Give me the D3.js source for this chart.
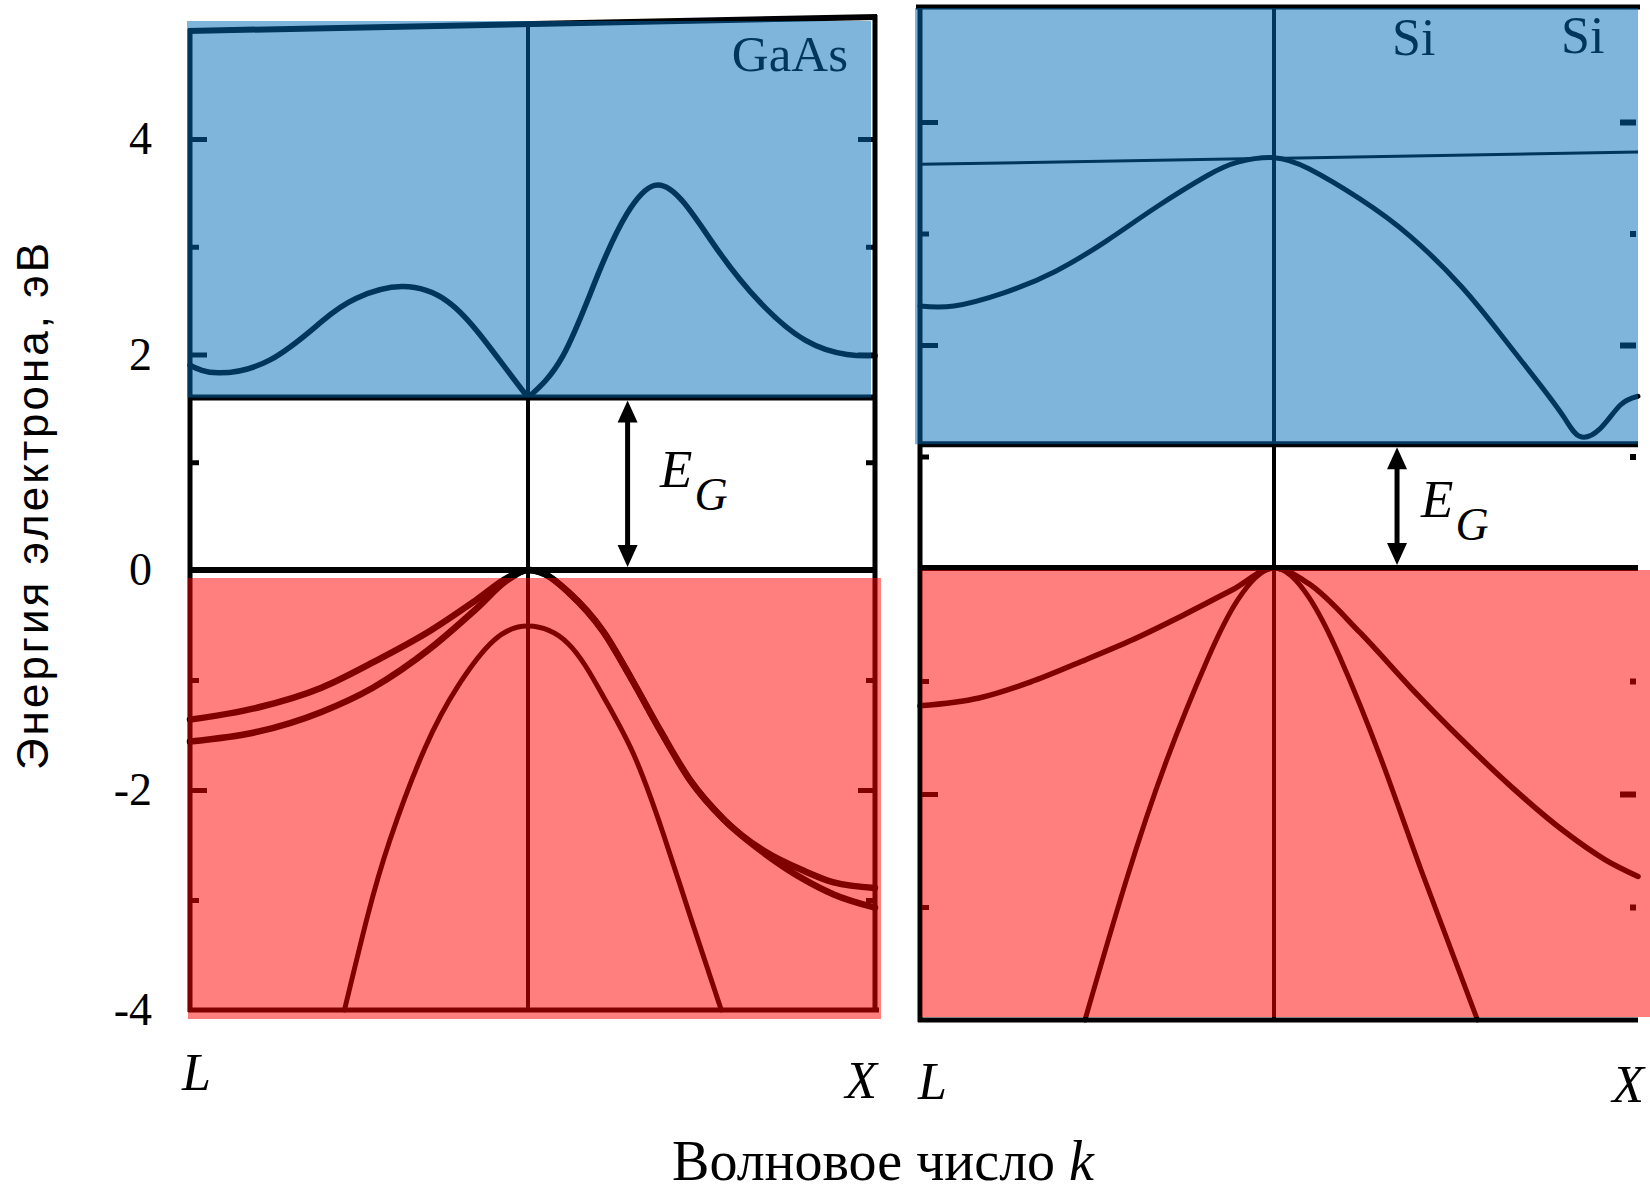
<!DOCTYPE html>
<html>
<head>
<meta charset="utf-8">
<title>Зонная структура GaAs и Si</title>
<script src="https://cdn.jsdelivr.net/npm/d3@7"></script>
<style>
  html, body { margin: 0; padding: 0; background: #fff; }
  svg { display: block; }
</style>
</head>
<body>
<svg id="chart" width="1650" height="1186"></svg>
<script>
// Band energies E(k), eV. k runs from L (-1) through Γ (0) to X (+1).

// GaAs conduction band (cusp at Γ, so two branches)
const gaasCondLeft = [[-1, 1.90], [-0.917, 1.83], [-0.763, 1.95], [-0.609, 2.31], [-0.509, 2.52],
  [-0.373, 2.63], [-0.237, 2.49], [-0.136, 2.16], [-0.068, 1.88], [0, 1.60]];
const gaasCondRight = [[0, 1.60], [0.101, 1.99], [0.200, 2.73], [0.284, 3.30], [0.365, 3.57],
  [0.449, 3.41], [0.551, 2.95], [0.667, 2.49], [0.800, 2.13], [0.919, 2.00], [1, 1.99]];

// GaAs valence bands
const gaasHeavy = [[-1, -1.36], [-0.799, -1.25], [-0.611, -1.07], [-0.459, -0.84], [-0.288, -0.55],
  [-0.152, -0.27], [-0.06, -0.07], [0, 0], [0.05, -0.04], [0.116, -0.20], [0.217, -0.56], [0.3, -1.00],
  [0.383, -1.47], [0.467, -1.91], [0.565, -2.27], [0.683, -2.56], [0.799, -2.74], [0.881, -2.84], [1, -2.89]];
const gaasLight = [[-1, -1.56], [-0.799, -1.47], [-0.611, -1.29], [-0.459, -1.07], [-0.288, -0.71],
  [-0.152, -0.35], [-0.06, -0.09], [0, 0], [0.05, -0.04], [0.116, -0.20], [0.217, -0.56], [0.3, -1.00],
  [0.383, -1.47], [0.467, -1.91], [0.565, -2.27], [0.683, -2.58], [0.799, -2.82], [0.881, -2.95], [1, -3.07]];
const gaasSplitOff = [[-0.543, -4], [-0.475, -3.15], [-0.408, -2.45], [-0.305, -1.62], [-0.204, -1.04],
  [-0.101, -0.64], [0, -0.51], [0.116, -0.67], [0.217, -1.15], [0.305, -1.68], [0.39, -2.4],
  [0.475, -3.22], [0.557, -4]];

// Si conduction band and the level through its Γ maximum
const siCond = [[-1, 2.35], [-0.904, 2.35], [-0.761, 2.47], [-0.618, 2.66], [-0.475, 2.93], [-0.331, 3.24],
  [-0.188, 3.52], [-0.102, 3.64], [0, 3.68], [0.096, 3.58], [0.236, 3.31], [0.376, 2.97], [0.516, 2.52],
  [0.629, 2.07], [0.727, 1.66], [0.797, 1.35], [0.840, 1.18], [0.896, 1.25], [0.951, 1.46], [1, 1.54]];
const siLevel = [[-1, 3.62], [1, 3.73]];

// Si valence bands
const siHeavy = [[-1, -1.22], [-0.833, -1.15], [-0.689, -1.01], [-0.546, -0.83], [-0.403, -0.64],
  [-0.258, -0.42], [-0.116, -0.19], [0, 0], [0.096, -0.14], [0.236, -0.57], [0.376, -1.06],
  [0.516, -1.52], [0.657, -1.95], [0.797, -2.33], [0.909, -2.58], [1, -2.73]];
const siLight = [[-0.534, -4], [-0.417, -2.76], [-0.303, -1.70], [-0.188, -0.81], [-0.102, -0.28], [0, 0],
  [0.096, -0.26], [0.181, -0.79], [0.293, -1.68], [0.405, -2.68], [0.559, -4]];

// Band gaps, eV
const gaasGap = 1.60;
const siGap = 1.11;

// Energy axis ticks
const minorTicks = [-3, -1, 1, 3];
const majorTicks = [-2, 2, 4];
const labelTicks = [4, 2, 0, -2, -4];
const tickLabels = ["4", "2", "0", "-2", "-4"];

// Text
const materialGaAs = "GaAs";
const materialSi = "Si";
const pointL = "L";
const pointX = "X";
const yTitle = "Энергия электрона, эВ";
const xTitle = "Волновое число ";
const xTitleVar = "k";

// ---------------------------------------------------------------------------
const svg = d3.select("#chart");
svg.append("rect").attr("width", 1650).attr("height", 1186).attr("fill", "#fff");

const SERIF = "'Liberation Serif', 'Times New Roman', serif";
const SANS = "'Liberation Sans', Arial, sans-serif";
const INK = "#000";
const BLUE_WASH = "rgba(0,105,183,0.5)";
const RED_WASH = "rgba(255,0,0,0.5)";

const lineGen = (x, y, curve) => d3.line()
  .x(d => x(d[0])).y(d => y(d[1]))
  .curve(curve);

function drawCurve(g, data, x, y, w, curve = d3.curveNatural) {
  g.append("path").datum(data)
    .attr("d", lineGen(x, y, curve))
    .attr("fill", "none").attr("stroke", INK)
    .attr("stroke-width", w).attr("stroke-linecap", "round").attr("stroke-linejoin", "round");
}

function hLine(g, x1, x2, yy, w) {
  g.append("line").attr("x1", x1).attr("x2", x2).attr("y1", yy).attr("y2", yy)
    .attr("stroke", INK).attr("stroke-width", w);
}
function vLine(g, xx, y1, y2, w) {
  g.append("line").attr("x1", xx).attr("x2", xx).attr("y1", y1).attr("y2", y2)
    .attr("stroke", INK).attr("stroke-width", w);
}

function ticks(g, y, xPos, orient, majorLen, minorLen, w) {
  const mk = orient === "right" ? d3.axisRight : d3.axisLeft;
  const ga = g.append("g").attr("transform", `translate(${xPos},0)`);
  ga.call(mk(y).tickValues(majorTicks).tickSize(majorLen).tickFormat(""));
  const gb = g.append("g").attr("transform", `translate(${xPos},0)`);
  gb.call(mk(y).tickValues(minorTicks).tickSize(minorLen).tickFormat(""));
  [ga, gb].forEach(a => {
    a.select(".domain").remove();
    a.selectAll(".tick line").attr("stroke", INK).attr("stroke-width", w);
  });
}

function gapArrow(g, xx, y, gap) {
  const top = y(gap) + 3, bot = y(0) - 3, hw = 10, hl = 22;
  vLine(g, xx, top + hl - 2, bot - hl + 2, 5);
  g.append("path").attr("d", `M${xx},${top} L${xx - hw},${top + hl} L${xx + hw},${top + hl} Z`).attr("fill", INK);
  g.append("path").attr("d", `M${xx},${bot} L${xx - hw},${bot - hl} L${xx + hw},${bot - hl} Z`).attr("fill", INK);
}

function gapLabel(g, xx, yy) {
  const t = g.append("text").attr("x", xx).attr("y", yy)
    .attr("font-family", SERIF).attr("font-style", "italic").attr("fill", INK);
  t.append("tspan").attr("font-size", 53).text("E");
  t.append("tspan").attr("font-size", 46).attr("dx", 2).attr("dy", 23).text("G");
}

// ---------------------------- GaAs panel ----------------------------------
const xG = d3.scaleLinear().domain([-1, 0, 1]).range([190, 528, 875]);
const yG = d3.scaleLinear().domain([-4, 0, 4]).range([1010, 570, 139]);
const gG = svg.append("g");

// frame
gG.append("line").attr("x1", 188).attr("y1", 31).attr("x2", 877).attr("y2", 17)
  .attr("stroke", INK).attr("stroke-width", 6);
vLine(gG, xG(-1), 29, yG(-4) + 2, 5);
vLine(gG, xG(1), 15, yG(-4) + 2, 5);
hLine(gG, xG(-1) - 2, xG(1) + 4, yG(-4), 5);
vLine(gG, xG(0), 24, yG(-4), 4);
hLine(gG, xG(-1), xG(1), yG(gaasGap), 6);
hLine(gG, xG(-1), xG(1), yG(0), 6);

ticks(gG, yG, xG(-1), "right", 17, 9, 5);
ticks(gG, yG, xG(1), "left", 17, 9, 5);

// bands
drawCurve(gG, gaasCondLeft, xG, yG, 5.5);
drawCurve(gG, gaasCondRight, xG, yG, 5.5);
drawCurve(gG, gaasHeavy, xG, yG, 6.5, d3.curveMonotoneX);
drawCurve(gG, gaasLight, xG, yG, 6.5, d3.curveMonotoneX);
drawCurve(gG, gaasSplitOff, xG, yG, 5);

gG.append("text").attr("x", 848).attr("y", 71).attr("text-anchor", "end")
  .attr("font-family", SERIF).attr("font-size", 51).attr("fill", INK).text(materialGaAs);

// coloured washes over conduction and valence regions
gG.append("rect").attr("x", 187).attr("y", 21).attr("width", 684).attr("height", yG(gaasGap) - 21)
  .attr("fill", BLUE_WASH);
gG.append("rect").attr("x", 188).attr("y", yG(0) + 8).attr("width", 693).attr("height", 1019 - yG(0) - 8)
  .attr("fill", RED_WASH);

gapArrow(gG, xG(0.287), yG, gaasGap);
gapLabel(gG, 660, 487);

// energy labels
const yAxisLabels = svg.append("g").attr("transform", `translate(${xG(-1)},0)`)
  .call(d3.axisLeft(yG).tickValues(labelTicks).tickSize(0).tickPadding(38)
    .tickFormat((d, i) => tickLabels[i]));
yAxisLabels.select(".domain").remove();
yAxisLabels.selectAll("text").attr("font-family", SERIF).attr("font-size", 46).attr("fill", INK);

// ----------------------------- Si panel -----------------------------------
const xS = d3.scaleLinear().domain([-1, 0, 1]).range([920, 1274, 1638]);
const yS = d3.scaleLinear().domain([-4, 0, 4]).range([1020, 568, 122]);
const gS = svg.append("g");

hLine(gS, 916, 1640, 7, 5);
vLine(gS, xS(-1), 5, yS(-4) + 2, 5);
hLine(gS, xS(-1) - 2, xS(1), yS(-4), 5);
vLine(gS, xS(0), 7, yS(-4), 4);
hLine(gS, xS(-1), xS(1), yS(siGap), 6);
hLine(gS, xS(-1), xS(1), yS(0), 6);

ticks(gS, yS, xS(-1), "right", 18, 9, 5);
ticks(gS, yS, xS(1) - 2, "left", 16, 6, 6);

gS.append("path").datum(siLevel)
  .attr("d", d3.line().x(d => xS(d[0])).y(d => yS(d[1])))
  .attr("stroke", INK).attr("stroke-width", 3).attr("fill", "none");
drawCurve(gS, siCond, xS, yS, 5);
drawCurve(gS, siHeavy, xS, yS, 5.5, d3.curveMonotoneX);
drawCurve(gS, siLight, xS, yS, 5);

gS.append("text").attr("x", 1392).attr("y", 55)
  .attr("font-family", SERIF).attr("font-size", 52).attr("fill", INK).text(materialSi);
gS.append("text").attr("x", 1561).attr("y", 53)
  .attr("font-family", SERIF).attr("font-size", 52).attr("fill", INK).text(materialSi);

gS.append("rect").attr("x", 915).attr("y", 8).attr("width", 723).attr("height", yS(siGap) - 8)
  .attr("fill", BLUE_WASH);
gS.append("rect").attr("x", 922).attr("y", yS(0) + 2).attr("width", 728).attr("height", 1017 - yS(0) - 2)
  .attr("fill", RED_WASH);

gapArrow(gS, xS(0.338), yS, siGap);
gapLabel(gS, 1421, 517);

// --------------------------- k-axis labels --------------------------------
function kLabel(txt, xx, yy, anchor) {
  svg.append("text").attr("x", xx).attr("y", yy).attr("text-anchor", anchor)
    .attr("font-family", SERIF).attr("font-style", "italic").attr("font-size", 52)
    .attr("fill", INK).text(txt);
}
kLabel(pointL, xG(-1) - 8, 1090, "start");
kLabel(pointX, xG(1) + 2, 1098, "end");
kLabel(pointL, xS(-1) - 2, 1099, "start");
kLabel(pointX, xS(1) + 6, 1102, "end");

// ------------------------------ titles -------------------------------------
svg.append("text")
  .attr("transform", "translate(48,505) rotate(-90)")
  .attr("text-anchor", "middle")
  .attr("font-family", SANS).attr("font-size", 44).attr("letter-spacing", 3)
  .attr("fill", INK).text(yTitle);

const xt = svg.append("text").attr("x", 883).attr("y", 1180).attr("text-anchor", "middle")
  .attr("font-family", SERIF).attr("font-size", 56).attr("fill", INK);
xt.append("tspan").text(xTitle);
xt.append("tspan").attr("font-style", "italic").text(xTitleVar);
</script>
</body>
</html>
